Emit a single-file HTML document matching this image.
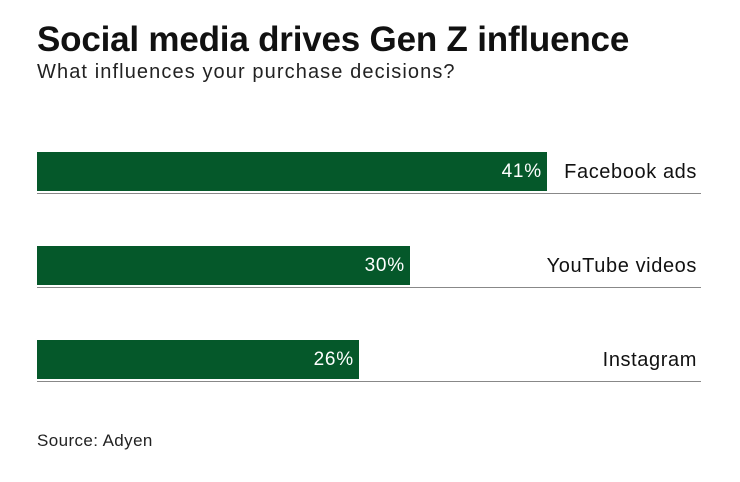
<!DOCTYPE html>
<html><head><style>
body{margin:0;width:740px;height:482px;background:#fff;font-family:"Liberation Sans",sans-serif;position:relative;overflow:hidden}
.t{position:absolute;left:37px;top:20px;font-size:35px;font-weight:bold;color:#111;letter-spacing:-0.2px}
.s{position:absolute;left:37px;top:61px;font-size:20px;color:#222;letter-spacing:1.1px}
.bar{position:absolute;left:37px;height:39px;background:#05582a;color:#fff;font-size:19px;text-align:right;line-height:39px;box-sizing:border-box;padding-right:5px;letter-spacing:0.8px}
.ln{position:absolute;left:37px;width:664px;height:1px;background:#888}
.lb{position:absolute;right:43px;font-size:20px;color:#111;line-height:39px;letter-spacing:0.6px}
.src{position:absolute;left:37px;top:431px;font-size:17px;color:#222;letter-spacing:0.4px}
</style></head><body>
<div class="t">Social media drives Gen Z influence</div>
<div class="s">What influences your purchase decisions?</div>
<div class="bar" style="top:152px;width:510px">41%</div><div class="ln" style="top:193px"></div><div class="lb" style="top:153px">Facebook ads</div>
<div class="bar" style="top:246px;width:373px">30%</div><div class="ln" style="top:287px"></div><div class="lb" style="top:247px">YouTube videos</div>
<div class="bar" style="top:340px;width:322px">26%</div><div class="ln" style="top:381px"></div><div class="lb" style="top:341px">Instagram</div>
<div class="src">Source: Adyen</div>
</body></html>
